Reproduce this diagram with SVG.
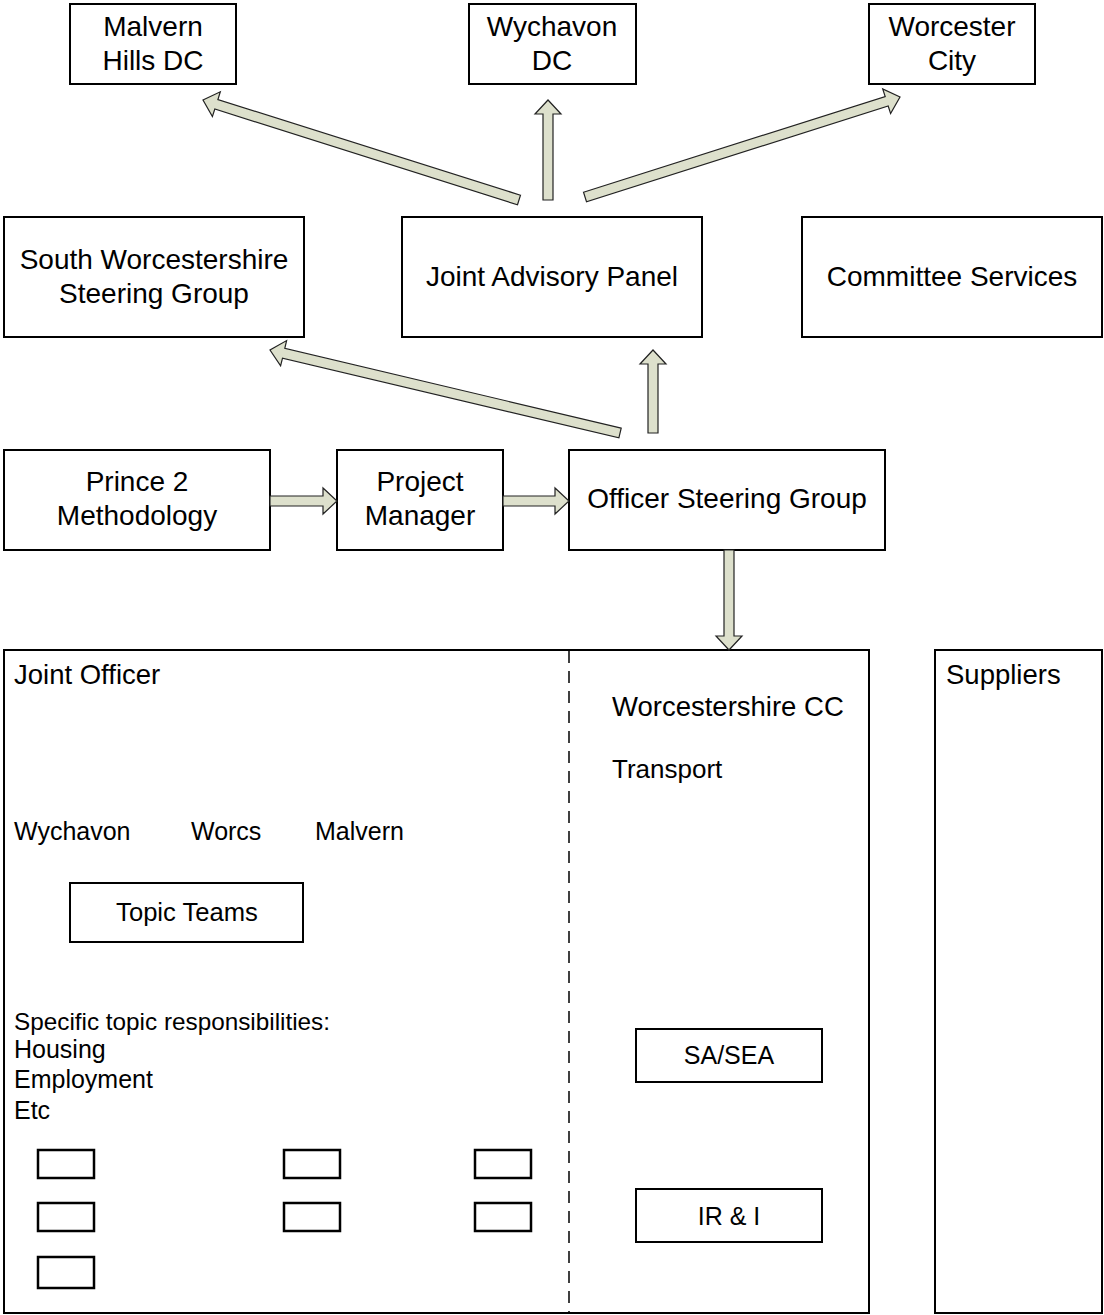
<svg xmlns="http://www.w3.org/2000/svg" width="1104" height="1315" viewBox="0 0 1104 1315">
<style>
.box{fill:#fff;stroke:#000;stroke-width:2}
.sb{fill:#fff;stroke:#000;stroke-width:2.5}
.t{font-family:"Liberation Sans",Arial,sans-serif;font-size:28px;fill:#000;text-anchor:middle}
.s{font-family:"Liberation Sans",Arial,sans-serif;font-size:25px;fill:#000}
.h{font-size:27.5px}
.c{text-anchor:middle}
.arr{fill:#dde0cc;stroke:#222;stroke-width:1.2;stroke-linejoin:miter}
.dash{stroke:#000;stroke-width:1.5;stroke-dasharray:12,8;fill:none}
</style>
<rect width="1104" height="1315" fill="#fff"/>
<g id="malvern"><rect class="box" x="70" y="4" width="166" height="80"/><text class="t" x="153" y="36">Malvern</text><text class="t" x="153" y="70">Hills DC</text></g>
<g id="wychavon"><rect class="box" x="469" y="4" width="167" height="80"/><text class="t" x="552" y="36">Wychavon</text><text class="t" x="552" y="70">DC</text></g>
<g id="worcester"><rect class="box" x="869" y="4" width="166" height="80"/><text class="t" x="952" y="36">Worcester</text><text class="t" x="952" y="70">City</text></g>
<g id="swsg"><rect class="box" x="4" y="217" width="300" height="120"/><text class="t" x="154" y="269">South Worcestershire</text><text class="t" x="154" y="303">Steering Group</text></g>
<g id="jap"><rect class="box" x="402" y="217" width="300" height="120"/><text class="t" x="552" y="286">Joint Advisory Panel</text></g>
<g id="committee"><rect class="box" x="802" y="217" width="300" height="120"/><text class="t" x="952" y="286">Committee Services</text></g>
<g id="prince2"><rect class="box" x="4" y="450" width="266" height="100"/><text class="t" x="137" y="491">Prince 2</text><text class="t" x="137" y="525">Methodology</text></g>
<g id="pm"><rect class="box" x="337" y="450" width="166" height="100"/><text class="t" x="420" y="491">Project</text><text class="t" x="420" y="525">Manager</text></g>
<g id="osg"><rect class="box" x="569" y="450" width="316" height="100"/><text class="t" x="727" y="508">Officer Steering Group</text></g>
<g id="jointofficer">
<rect class="box" x="4" y="650" width="865" height="663"/>
<line class="dash" x1="569" y1="651" x2="569" y2="1313"/>
<text class="s h" x="14" y="684">Joint Officer</text>
<text class="s h" x="612" y="716">Worcestershire CC</text>
<text class="s" x="612" y="778" style="font-size:26px">Transport</text>
<text class="s" x="14" y="840">Wychavon</text>
<text class="s" x="191" y="840">Worcs</text>
<text class="s" x="315" y="840">Malvern</text>
<text class="s" x="14" y="1030" style="font-size:24.3px">Specific topic responsibilities:</text>
<text class="s" x="14" y="1058">Housing</text>
<text class="s" x="14" y="1088">Employment</text>
<text class="s" x="14" y="1119">Etc</text>
</g>
<g id="topicteams"><rect class="box" x="70" y="883" width="233" height="59"/><text class="s c" x="187" y="921" style="font-size:25.6px">Topic Teams</text></g>
<g id="sasea"><rect class="box" x="636" y="1029" width="186" height="53"/><text class="s c" x="729" y="1064">SA/SEA</text></g>
<g id="iri"><rect class="box" x="636" y="1189" width="186" height="53"/><text class="s c" x="729" y="1225">IR &amp; I</text></g>
<g id="suppliers"><rect class="box" x="935" y="650" width="167" height="663"/><text class="s h" x="946" y="684">Suppliers</text></g>
<g id="smallboxes">
<rect class="sb" x="38" y="1150" width="56" height="28"/>
<rect class="sb" x="284" y="1150" width="56" height="28"/>
<rect class="sb" x="475" y="1150" width="56" height="28"/>
<rect class="sb" x="38" y="1203" width="56" height="28"/>
<rect class="sb" x="284" y="1203" width="56" height="28"/>
<rect class="sb" x="475" y="1203" width="56" height="28"/>
<rect class="sb" x="38" y="1257" width="56" height="31"/>
</g>
<g id="connectors">
<polygon class="arr" points="520.5,195.2 217.9,99.5 220.3,91.8 203,100 212.4,116.6 214.8,109.0 517.5,204.8"/>
<polygon class="arr" points="543,200 543,114 535,114 548,100 561,114 553,114 553,200"/>
<polygon class="arr" points="583.5,192.2 885.2,96.5 882.7,88.9 900,97 890.6,113.6 888.2,106.0 586.5,201.8"/>
<polygon class="arr" points="621.2,428.1 284.8,348.4 286.6,340.6 270,350 280.6,365.9 282.5,358.1 618.9,437.9"/>
<polygon class="arr" points="648,433 648,364 640,364 653,350 666,364 658,364 658,433"/>
<polygon class="arr" points="270,496 323,496 323,488 337,501 323,514 323,506 270,506"/>
<polygon class="arr" points="503,496 555,496 555,488 569,501 555,514 555,506 503,506"/>
<polygon class="arr" points="724,550 724,636 716,636 729,650 742,636 734,636 734,550"/>
</g>
</svg>
